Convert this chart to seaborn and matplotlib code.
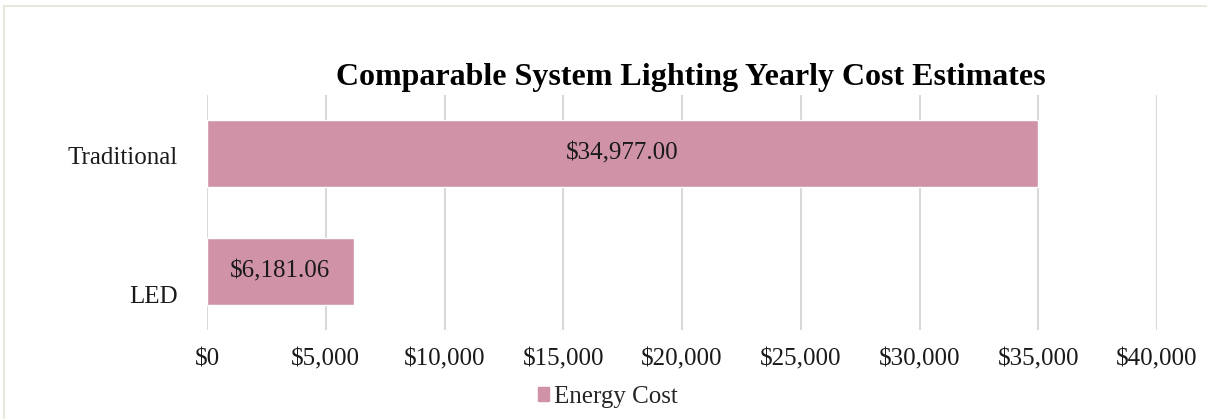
import pandas as pd
import matplotlib.pyplot as plt
import matplotlib.transforms as mtransforms
import seaborn as sns
from matplotlib.ticker import FuncFormatter
from matplotlib.patches import Rectangle

# data
categories = ["Traditional", "LED"]
energy_cost = [34977.00, 6181.06]
x_ticks = [0, 5000, 10000, 15000, 20000, 25000, 30000, 35000, 40000]

df = pd.DataFrame({"system": categories, "cost": energy_cost})

sns.set_style("white")
plt.rcParams.update(
    {
        "font.family": ["Liberation Serif", "DejaVu Serif"],
        "font.size": 18,
    }
)

bar_color = "#D092A7"

fig = plt.figure(figsize=(12.07, 4.19), dpi=100)
ax = fig.add_axes([207 / 1207, 1 - 330 / 419, 950 / 1207, 235 / 419])

sns.barplot(
    data=df,
    x="cost",
    y="system",
    orient="h",
    color=bar_color,
    width=0.57,
    saturation=1,
    ax=ax,
    zorder=3,
)

for cont in ax.containers:
    ax.bar_label(
        cont,
        labels=[f"${v:,.2f}" for v in energy_cost],
        label_type="center",
        fontsize=18,
        color="#1a1a1a",
    )

ax.set_xlim(0, 40000)
ax.set_ylim(1.5, -0.5)
ax.set_xticks(x_ticks)
ax.xaxis.set_major_formatter(FuncFormatter(lambda v, _: f"${v:,.0f}"))
ax.grid(axis="x", color="#D9D9D9", linewidth=1.5, zorder=0)
ax.grid(axis="y", visible=False)
ax.tick_params(axis="both", length=0, labelsize=18, colors="#1a1a1a")
ax.tick_params(axis="x", pad=13.5)
ax.tick_params(axis="y", pad=21)
ax.set_xlabel("")
ax.set_ylabel("")
sns.despine(ax=ax, left=True, bottom=True)

# the original places the lower category label near the bottom of its band
fig.canvas.draw()
ylabels = ax.get_yticklabels()
ylabels[0].set_transform(
    ylabels[0].get_transform() + mtransforms.ScaledTranslation(0, -2 / 100, fig.dpi_scale_trans)
)
ylabels[1].set_transform(
    ylabels[1].get_transform() + mtransforms.ScaledTranslation(0, -23 / 100, fig.dpi_scale_trans)
)

fig.text(
    691 / 1207, 1 - 78 / 419,
    "Comparable System Lighting Yearly Cost Estimates",
    ha="center", va="center", fontsize=23, fontweight="bold", color="black",
)

# legend
handle = Rectangle((0, 0), 1, 1, color=bar_color)
fig.legend(
    [handle], ["Energy Cost"],
    loc="center", bbox_to_anchor=(608 / 1207, 1 - 397 / 419),
    frameon=False, fontsize=18, handlelength=0.45, handleheight=0.45,
    handletextpad=0.2,
)

# light outer border of the chart area
fig.patches.append(
    Rectangle((4 / 1207, -0.01), 1.1, 1 - 6 / 419 + 0.01, transform=fig.transFigure,
              fill=False, edgecolor="#E8E8DC", linewidth=1.5)
)

fig.savefig("out.png", dpi=100)
